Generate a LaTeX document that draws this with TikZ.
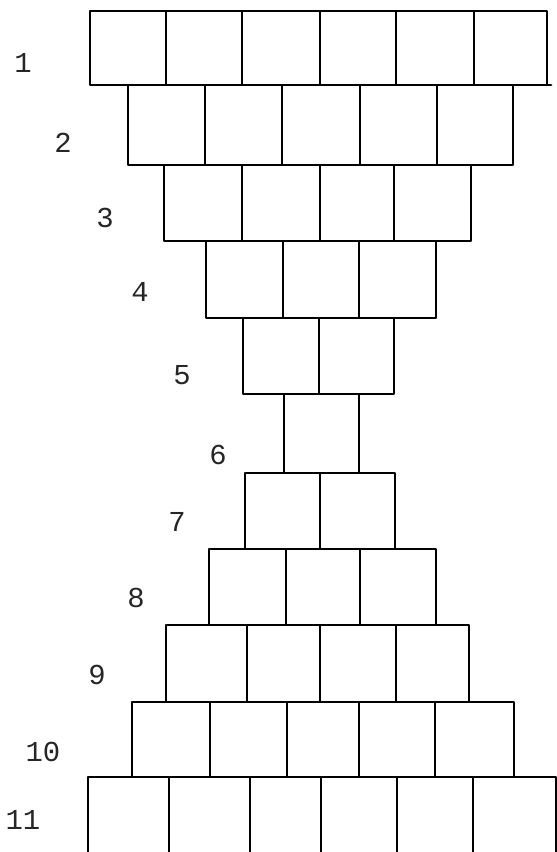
\documentclass[tikz,border=0pt]{standalone}
\usepackage{fontspec}
\newfontfamily\labfont{Liberation Mono}
\begin{document}
\begin{tikzpicture}[x=1bp,y=-1bp,
  cell/.style={draw=black,line width=2.8bp,line join=round,line cap=round},
  rowlab/.style={font=\labfont\fontsize{29}{29}\selectfont,inner sep=0pt,text=black!85}]
\useasboundingbox (0,0) rectangle (557,852);
\fill[white] (0,0) rectangle (557,852);
\begin{scope}
\clip (0,0) rectangle (557,852);
% row 1
\foreach \a/\b in {90/166,166/242,242/320,320/396,396/474,474/547}
  \draw[cell] (\a,11) rectangle (\b,85);
\draw[cell] (547,85) -- (551,85);
% row 2
\foreach \a/\b in {128/205,205/282,282/360,360/437,437/513}
  \draw[cell] (\a,85) rectangle (\b,165);
% row 3
\foreach \a/\b in {164/242,242/320,320/394,394/471}
  \draw[cell] (\a,165) rectangle (\b,241);
% row 4
\foreach \a/\b in {206/283,283/359,359/436}
  \draw[cell] (\a,241) rectangle (\b,318);
% row 5
\foreach \a/\b in {243/319,319/394}
  \draw[cell] (\a,318) rectangle (\b,394);
% row 6
\draw[cell] (284,394) rectangle (359,473);
% row 7
\foreach \a/\b in {245/320,320/395}
  \draw[cell] (\a,473) rectangle (\b,549);
% row 8
\foreach \a/\b in {209/286,286/360,360/436}
  \draw[cell] (\a,549) rectangle (\b,625);
% row 9
\foreach \a/\b in {166/247,247/320,320/396,396/469}
  \draw[cell] (\a,625) rectangle (\b,702);
% row 10
\foreach \a/\b in {132/210,210/287,287/359,359/435,435/514}
  \draw[cell] (\a,702) rectangle (\b,777);
% row 11
\foreach \a/\b in {88/169,169/250,250/321,321/397,397/473,473/556}
  \draw[cell] (\a,777) rectangle (\b,870);
\end{scope}
% labels
\node[rowlab] (l1) at (23,63) {1};
\node[rowlab] (l2) at (63,143) {2};
\node[rowlab] (l3) at (105,218) {3};
\node[rowlab] (l4) at (140,292) {4};
\node[rowlab] (l5) at (182,375) {5};
\node[rowlab] (l6) at (218,455) {6};
\node[rowlab] (l7) at (177,522) {7};
\node[rowlab] (l8) at (136,598) {8};
\node[rowlab] (l9) at (97,675) {9};
\node[rowlab] (l10) at (43,752) {10};
\node[rowlab] (l11) at (23,820) {11};
\end{tikzpicture}
\end{document}
